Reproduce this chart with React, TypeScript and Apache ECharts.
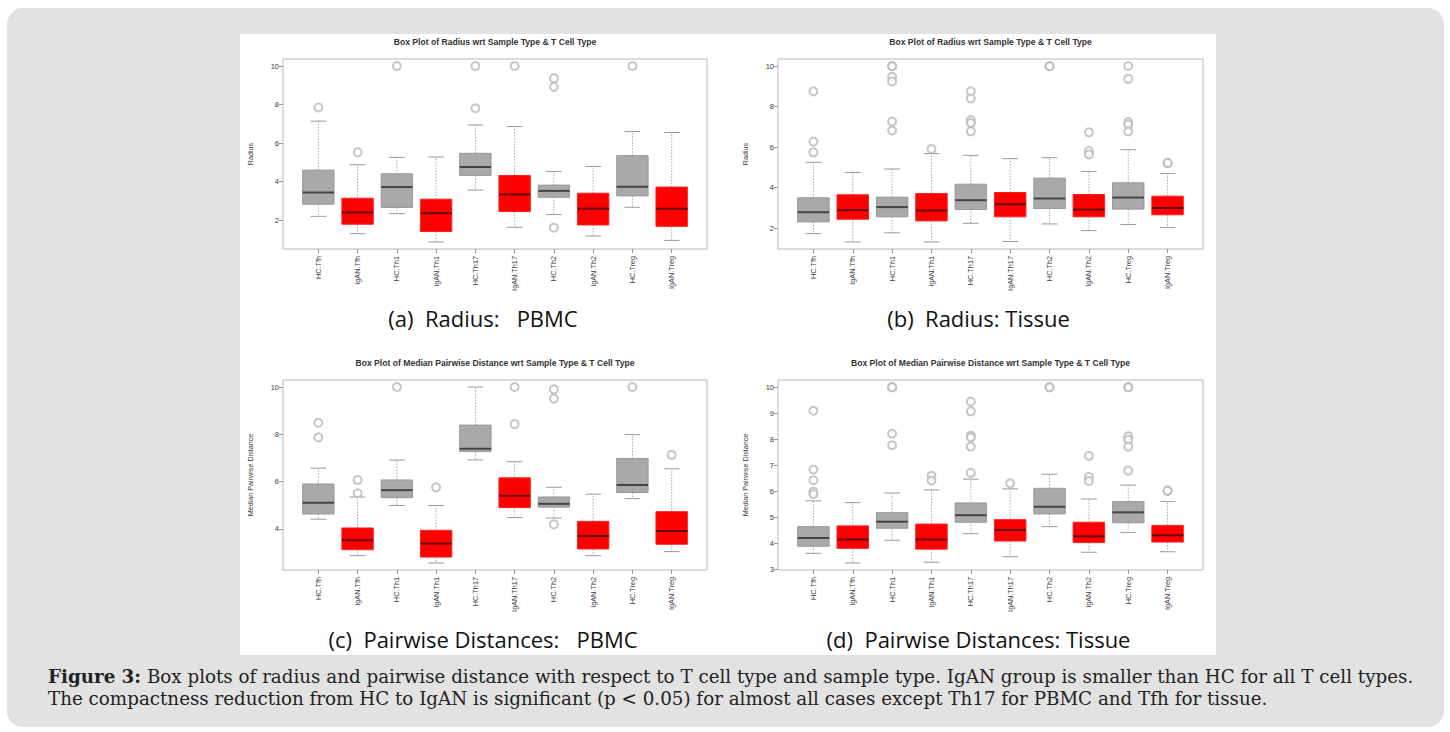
import React, { useEffect, useRef } from "react";
import * as echarts from "echarts";

const categories = ["HC.Tfh", "IgAN.Tfh", "HC.Th1", "IgAN.Th1", "HC.Th17", "IgAN.Th17", "HC.Th2", "IgAN.Th2", "HC.Treg", "IgAN.Treg"];

// [lower whisker, Q1, median, Q3, upper whisker]
const radiusPBMC = [
  [2.20, 2.83, 3.44, 4.60, 7.14],
  [1.30, 1.79, 2.40, 3.14, 4.88],
  [2.34, 2.66, 3.72, 4.41, 5.26],
  [0.87, 1.41, 2.36, 3.09, 5.28],
  [3.56, 4.32, 4.76, 5.47, 6.94],
  [1.63, 2.45, 3.33, 4.32, 6.86],
  [2.29, 3.19, 3.52, 3.82, 4.53],
  [1.18, 1.75, 2.60, 3.40, 4.79],
  [2.67, 3.26, 3.73, 5.35, 6.60],
  [0.95, 1.68, 2.59, 3.72, 6.55],
];
const radiusPBMCOutliers = [[1, 7.85], [2, 5.52], [3, 10], [5, 10], [5, 7.81], [6, 10], [7, 9.36], [7, 8.92], [7, 1.61], [9, 10]];

const radiusTissue = [
  [1.73, 2.31, 2.79, 3.50, 5.25],
  [1.32, 2.44, 2.89, 3.65, 4.75],
  [1.77, 2.56, 3.04, 3.53, 4.92],
  [1.32, 2.36, 2.87, 3.71, 5.68],
  [2.24, 2.92, 3.38, 4.17, 5.59],
  [1.34, 2.56, 3.18, 3.76, 5.43],
  [2.21, 2.97, 3.47, 4.47, 5.48],
  [1.88, 2.56, 2.92, 3.66, 4.80],
  [2.18, 2.94, 3.51, 4.24, 5.87],
  [2.03, 2.66, 3.00, 3.58, 4.70],
];
const radiusTissueOutliers = [
  [1, 8.75], [1, 6.27], [1, 5.74],
  [3, 10], [3, 9.99], [3, 9.47], [3, 9.24], [3, 7.26], [3, 6.82],
  [4, 5.91],
  [5, 8.75], [5, 8.40], [5, 7.33], [5, 7.19], [5, 6.78],
  [7, 10], [7, 9.99],
  [8, 6.73], [8, 5.81], [8, 5.64],
  [9, 10], [9, 9.37], [9, 7.24], [9, 7.11], [9, 6.77],
  [10, 5.21], [10, 5.22],
];

const pairPBMC = [
  [4.41, 4.63, 5.11, 5.90, 6.57],
  [2.87, 3.12, 3.52, 4.04, 5.35],
  [4.99, 5.32, 5.64, 6.07, 6.91],
  [2.56, 2.81, 3.38, 3.94, 4.99],
  [6.92, 7.27, 7.39, 8.39, 10.0],
  [4.48, 4.90, 5.40, 6.16, 6.84],
  [4.46, 4.92, 5.06, 5.35, 5.76],
  [2.87, 3.15, 3.70, 4.32, 5.47],
  [5.28, 5.54, 5.86, 6.98, 7.99],
  [3.04, 3.35, 3.91, 4.73, 6.54],
];
const pairPBMCOutliers = [[1, 8.49], [1, 7.87], [2, 6.07], [2, 5.51], [3, 10], [4, 5.76], [6, 10], [6, 8.43], [7, 9.90], [7, 9.51], [7, 4.19], [9, 10], [10, 7.13]];

const pairTissue = [
  [3.63, 3.90, 4.22, 4.65, 5.64],
  [3.26, 3.82, 4.16, 4.68, 5.57],
  [4.13, 4.59, 4.84, 5.19, 5.94],
  [3.29, 3.79, 4.16, 4.75, 6.06],
  [4.38, 4.82, 5.09, 5.56, 6.47],
  [3.50, 4.10, 4.52, 4.92, 6.10],
  [4.65, 5.14, 5.41, 6.12, 6.66],
  [3.67, 4.04, 4.28, 4.82, 5.71],
  [4.43, 4.80, 5.20, 5.61, 6.24],
  [3.69, 4.06, 4.32, 4.70, 5.61],
];
const pairTissueOutliers = [
  [1, 9.09], [1, 6.84], [1, 6.43], [1, 5.99], [1, 5.90],
  [3, 10], [3, 9.99], [3, 8.21], [3, 7.77],
  [4, 6.60], [4, 6.42],
  [5, 9.44], [5, 9.07], [5, 8.14], [5, 8.07], [5, 7.72], [5, 6.71],
  [6, 6.31],
  [7, 10], [7, 9.99],
  [8, 7.36], [8, 6.56], [8, 6.40],
  [9, 10], [9, 9.99], [9, 8.11], [9, 7.98], [9, 7.72], [9, 6.80],
  [10, 6.02], [10, 6.03],
];

const yTicksRadius = [2, 4, 6, 8, 10];
const yTicksPairPBMC = [4, 6, 8, 10];
const yTicksPairTissue = [3, 4, 5, 6, 7, 8, 9, 10];

const panelTitles = [
  "Box Plot of Radius wrt Sample Type & T Cell Type",
  "Box Plot of Radius wrt Sample Type & T Cell Type",
  "Box Plot of Median Pairwise Distance wrt Sample Type & T Cell Type",
  "Box Plot of Median Pairwise Distance wrt Sample Type & T Cell Type",
];
const subCaptions = ["(a)  Radius:   PBMC", "(b)  Radius: Tissue", "(c)  Pairwise Distances:   PBMC", "(d)  Pairwise Distances: Tissue"];
const yNames = ["Radius", "Radius", "Median Pairwise Distance", "Median Pairwise Distance"];
const captionBold = "Figure 3:";
const captionLine1 = " Box plots of radius and pairwise distance with respect to T cell type and sample type. IgAN group is smaller than HC for all T cell types.";
const captionLine2 = "The compactness reduction from HC to IgAN is significant (p < 0.05) for almost all cases except Th17 for PBMC and Tfh for tissue.";

const GRAY = "#a9a9a9";
const RED = "#ff0000";

const panels = [
  { stats: radiusPBMC, outliers: radiusPBMCOutliers, ticks: yTicksRadius, grid: { left: 283, top: 59, width: 424, height: 190 } },
  { stats: radiusTissue, outliers: radiusTissueOutliers, ticks: yTicksRadius, grid: { left: 778, top: 59, width: 425, height: 190 } },
  { stats: pairPBMC, outliers: pairPBMCOutliers, ticks: yTicksPairPBMC, grid: { left: 283, top: 380, width: 424, height: 190 } },
  { stats: pairTissue, outliers: pairTissueOutliers, ticks: yTicksPairTissue, grid: { left: 778, top: 380, width: 425, height: 190 } },
];

const renderBox = (params: any, api: any) => {
  const x = api.value(0);
  const mn = api.value(1), q1 = api.value(2), md = api.value(3), q3 = api.value(4), mx = api.value(5);
  const isIg = api.value(6) === 1;
  const w = api.size([0.8, 0])[0];
  const cx = api.coord([x, md])[0];
  const y = (v: number) => api.coord([x, v])[1];
  const fill = isIg ? RED : GRAY;
  const border = isIg ? "#f22" : "#999";
  const med = isIg ? "#6a0000" : "#444";
  const whisk = { stroke: "#a8a8a8", lineWidth: 1, lineDash: [1.5, 1.5] };
  const staple = { stroke: "#9a9a9a", lineWidth: 1 };
  return {
    type: "group",
    children: [
      { type: "line", shape: { x1: cx, y1: y(q3), x2: cx, y2: y(mx) }, style: whisk },
      { type: "line", shape: { x1: cx, y1: y(q1), x2: cx, y2: y(mn) }, style: whisk },
      { type: "line", shape: { x1: cx - w / 4, y1: y(mx), x2: cx + w / 4, y2: y(mx) }, style: staple },
      { type: "line", shape: { x1: cx - w / 4, y1: y(mn), x2: cx + w / 4, y2: y(mn) }, style: staple },
      { type: "rect", shape: { x: cx - w / 2, y: y(q3), width: w, height: y(q1) - y(q3) }, style: { fill, stroke: border, lineWidth: 1 } },
      { type: "line", shape: { x1: cx - w / 2, y1: y(md), x2: cx + w / 2, y2: y(md) }, style: { stroke: med, lineWidth: 2 } },
    ],
  };
};

export default function App() {
  const ref = useRef<HTMLDivElement>(null);
  useEffect(() => {
    if (!ref.current) return;
    const chart = echarts.init(ref.current, undefined, { renderer: "svg" });
    const catIdx = categories.map((_, i) => i + 1);
    const grids: any[] = [];
    const xAxes: any[] = [];
    const yAxes: any[] = [];
    const series: any[] = [];
    const graphics: any[] = [];
    panels.forEach((p, k) => {
      const all = p.stats.flat().concat(p.outliers.map((o) => o[1]));
      const dmin = Math.min(...all);
      const dmax = Math.max(...all);
      const ext = (dmax - dmin) * 0.04;
      grids.push({ ...p.grid, show: true, borderColor: "#b8b8b8", borderWidth: 1, backgroundColor: "transparent" });
      xAxes.push({
        type: "value",
        gridIndex: k,
        min: 0.1,
        max: 10.9,
        splitLine: { show: false },
        axisLine: { show: false },
        axisTick: { show: true, customValues: catIdx, length: 4, lineStyle: { color: "#999" } },
        axisLabel: {
          customValues: catIdx,
          formatter: (v: number) => categories[Math.round(v) - 1] ?? "",
          rotate: 90,
          fontSize: 7.3,
          fontFamily: "Liberation Sans",
          color: "#3a3a3a",
          margin: 7,
        },
      });
      yAxes.push({
        type: "value",
        gridIndex: k,
        min: dmin - ext,
        max: dmax + ext,
        splitLine: { show: false },
        axisLine: { show: false },
        axisTick: { show: true, customValues: p.ticks, length: 4, lineStyle: { color: "#999" } },
        axisLabel: { customValues: p.ticks, fontSize: 7.5, fontFamily: "Liberation Sans", color: "#3a3a3a", margin: 4 },
        name: yNames[k],
        nameLocation: "middle",
        nameRotate: 90,
        nameGap: 29,
        nameTextStyle: { fontSize: 7.2, fontFamily: "Liberation Sans", color: "#3a3a3a" },
      });
      series.push({
        type: "custom",
        xAxisIndex: k,
        yAxisIndex: k,
        renderItem: renderBox,
        encode: { x: 0, y: [1, 2, 3, 4, 5] },
        data: p.stats.map((s, i) => [i + 1, ...s, i % 2]),
        z: 2,
      });
      series.push({
        type: "scatter",
        xAxisIndex: k,
        yAxisIndex: k,
        symbol: "emptyCircle",
        symbolSize: 8,
        itemStyle: { color: "#b8b8b8", borderWidth: 0.8 },
        data: p.outliers,
        z: 3,
      });
      const cx = p.grid.left + p.grid.width / 2;
      graphics.push({
        type: "text",
        x: cx,
        y: p.grid.top - 17,
        style: { text: panelTitles[k], textAlign: "center", textVerticalAlign: "middle", fontSize: 8.6, fontWeight: "bold", fontFamily: "Liberation Sans", fill: "#333" },
      });
      graphics.push({
        type: "text",
        x: cx - 12,
        y: p.grid.top + 259,
        style: { text: subCaptions[k], textAlign: "center", textVerticalAlign: "middle", fontSize: 22, fontFamily: "Open Sans", fill: "#111" },
      });
    });
    const capStyle = { fontSize: 18.3, fontFamily: "DejaVu Serif", fill: "#222" };
    graphics.push({
      type: "text",
      x: 48,
      y: 676,
      style: {
        text: "{b|" + captionBold + "}" + captionLine1,
        textVerticalAlign: "middle",
        ...capStyle,
        rich: { b: { ...capStyle, fontWeight: "bold" } },
      },
    });
    graphics.push({
      type: "text",
      x: 48,
      y: 698,
      style: { text: captionLine2, textVerticalAlign: "middle", ...capStyle },
    });
    chart.setOption({
      animation: false,
      grid: grids,
      xAxis: xAxes,
      yAxis: yAxes,
      series,
      graphic: graphics,
    });
    return () => chart.dispose();
  }, []);
  return (
    <div style={{ position: "fixed", left: 0, top: 0, width: 1450, height: 732, background: "#fff" }}>
      <div style={{ position: "absolute", left: 7, top: 8, width: 1437, height: 719, background: "#e2e2e2", borderRadius: 16 }} />
      <div style={{ position: "absolute", left: 240, top: 34, width: 976, height: 621, background: "#fff" }} />
      <div ref={ref} style={{ position: "absolute", left: 0, top: 0, width: 1450, height: 732 }} />
    </div>
  );
}
